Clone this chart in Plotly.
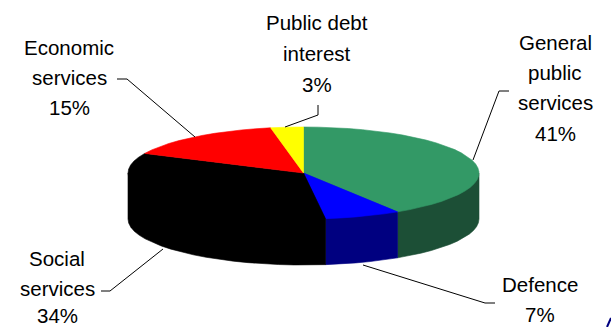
import math
import plotly.graph_objects as go

categories = ["General public services", "Defence", "Social services",
              "Economic services", "Public debt interest"]
shares = [41, 7, 34, 15, 3]
top_colors = ["#339966", "#0000FF", "#000000", "#FF0000", "#FFFF00"]
side_colors = ["#1C4F36", "#000080", "#000000", "#800000", "#808000"]

label_lines = {
    "General public services": ["General", "public", "services", "41%"],
    "Defence": ["Defence", "7%"],
    "Social services": ["Social", "services", "34%"],
    "Economic services": ["Economic", "services", "15%"],
    "Public debt interest": ["Public debt", "interest", "3%"],
}
# Horizontal centre of each label and the vertical centre of each of its lines.
label_x = {
    "General public services": 555,
    "Defence": 540,
    "Social services": 57,
    "Economic services": 69,
    "Public debt interest": 317,
}
label_y = {
    "General public services": [42, 72, 102, 133],
    "Defence": [284, 314],
    "Social services": [258, 288, 315],
    "Economic services": [47, 77, 107],
    "Public debt interest": [22, 53, 84],
}
leader_paths = {
    "General public services": [(473, 160), (499, 91), (509, 91)],
    "Defence": [(363, 265), (485, 303), (495, 303)],
    "Social services": [(163, 249), (110, 291), (101, 291)],
    "Economic services": [(195, 137), (127, 79), (117, 79)],
    "Public debt interest": [(285, 127), (318, 115), (318, 105)],
}

CX, CY, RX, RY, DEPTH = 303.5, 173, 175.5, 46, 46


def rim(angle_deg, drop=0):
    a = math.radians(angle_deg)
    return CX + RX * math.sin(a), CY - RY * math.cos(a) + drop


def arc(start, end, drop=0, step=5):
    n = max(1, round((end - start) / step))
    return [rim(start + (end - start) * i / n, drop) for i in range(n + 1)]


fig = go.Figure()


def polygon(points, color):
    xs, ys = zip(*points)
    fig.add_trace(go.Scatter(x=list(xs) + [xs[0]], y=list(ys) + [ys[0]], mode="lines",
                             fill="toself", fillcolor=color,
                             line=dict(width=0.6, color=color),
                             hoverinfo="skip", showlegend=False))


# Slice boundaries run clockwise from twelve o'clock.
bounds = [0]
for s in shares:
    bounds.append(bounds[-1] + s * 3.6)

# Rim wall: only the front half of the disc (90 to 270 degrees) shows. Each wall
# polygon reaches back to the centre so no seam opens under the top face.
for i in range(len(shares)):
    lo, hi = max(bounds[i], 90), min(bounds[i + 1], 270)
    if lo < hi:
        polygon([(CX, CY), rim(lo)] + arc(lo, hi, DEPTH) + [rim(hi)], side_colors[i])

# Top face of each slice.
for i in range(len(shares)):
    polygon([(CX, CY)] + arc(bounds[i], bounds[i + 1]), top_colors[i])

# Leader lines from the labels to the slices.
for name in categories:
    xs, ys = zip(*leader_paths[name])
    fig.add_trace(go.Scatter(x=xs, y=ys, mode="lines", line=dict(color="#000000", width=1),
                             hoverinfo="skip", showlegend=False))

# Each label line is placed on its own so the generous line pitch can be kept.
for name in categories:
    for line, y in zip(label_lines[name], label_y[name]):
        fig.add_annotation(x=label_x[name], y=y, text=line, showarrow=False,
                           xanchor="center", yanchor="middle",
                           font=dict(family="Liberation Sans", size=20.5, color="#000000"))

# Sliver of the neighbouring drawing at the lower right corner.
fig.add_trace(go.Scatter(x=[607, 611], y=[327, 318], mode="lines",
                         line=dict(color="#000080", width=2),
                         hoverinfo="skip", showlegend=False))

fig.update_layout(width=611, height=327, margin=dict(l=0, r=0, t=0, b=0),
                  paper_bgcolor="white", plot_bgcolor="white", showlegend=False,
                  xaxis=dict(range=[0, 611], visible=False, fixedrange=True),
                  yaxis=dict(range=[327, 0], visible=False, fixedrange=True))
fig.write_html("out.html", config={"displayModeBar": False})
